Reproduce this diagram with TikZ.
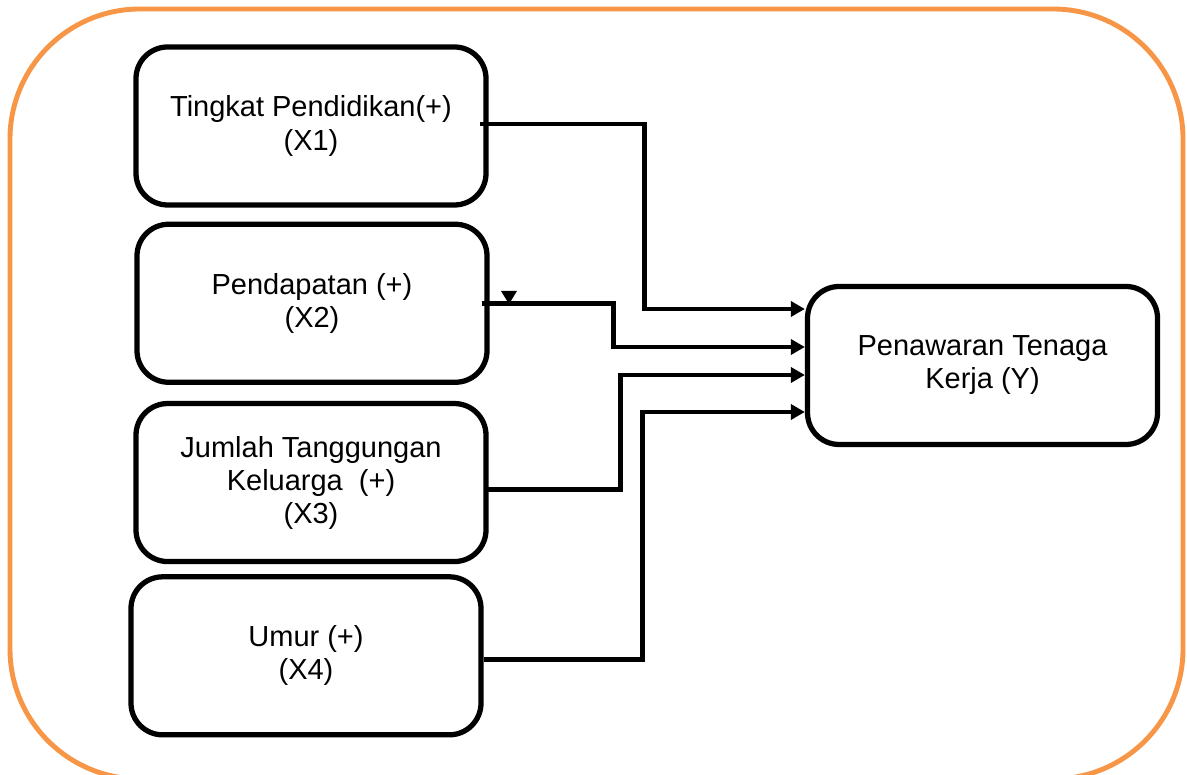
\documentclass[tikz,border=0pt]{standalone}
\usepackage{fontspec}
\setmainfont{Liberation Sans}
\usepackage{tikz}
\usetikzlibrary{arrows.meta,positioning}
\definecolor{bingkai}{HTML}{F79646}

\begin{document}
\begin{tikzpicture}[
    node distance=0.14cm and 3.2cm,
    factor/.style={draw, line width=1.5pt, rounded corners=9pt, align=center,
                   minimum width=3.5cm, minimum height=1.58cm, inner sep=2pt,
                   font=\fontsize{8.25}{9.4}\selectfont},
    arrow/.style={-{Triangle[length=1.4mm, width=1.5mm]}, line width=1.35pt}
  ]
    \useasboundingbox (0,0) rectangle (11.87,7.74);
    \clip (0,0) rectangle (11.87,7.74);
    % frame
    \draw[bingkai, line width=1.4pt, rounded corners=1.3cm] (0.10,-0.05) rectangle (11.83,7.65);
    % variables
    \node[factor] at (3.11,6.48) (x1) {Tingkat Pendidikan(+)\\(X1)};
    \node[factor, below=of x1, xshift=0.01cm] (x2) {Pendapatan (+)\\(X2)};
    \node[factor, below=0.16cm of x2, xshift=-0.01cm] (x3) {Jumlah Tanggungan\\Keluarga~ (+)\\(X3)};
    \node[factor, below=0.10cm of x3, xshift=-0.05cm] (x4) {Umur (+)\\(X4)};
    \node[factor] at (9.825,4.085) (y) {Penawaran Tenaga\\Kerja (Y)};
    % connectors
    \draw[arrow] ([xshift=-0.9mm, yshift=0.2mm]x1.east) -- ++(1.65,0) |- ([yshift=5.65mm]y.west);
    \draw[arrow] ([xshift=-0.8mm]x2.east) -- ++(1.32,0) |- ([yshift=1.85mm]y.west);
    \draw[arrow] ([xshift=-0.3mm, yshift=-0.7mm]x3.east) -- ++(1.35,0) |- ([yshift=-0.95mm]y.west);
    \draw[arrow] ([yshift=-0.35mm]x4.east) -- ++(1.59,0) |- ([yshift=-4.65mm]y.west);
    \fill (5.01,4.83) -- (5.17,4.83) -- (5.09,4.70) -- cycle;
\end{tikzpicture}
\end{document}
